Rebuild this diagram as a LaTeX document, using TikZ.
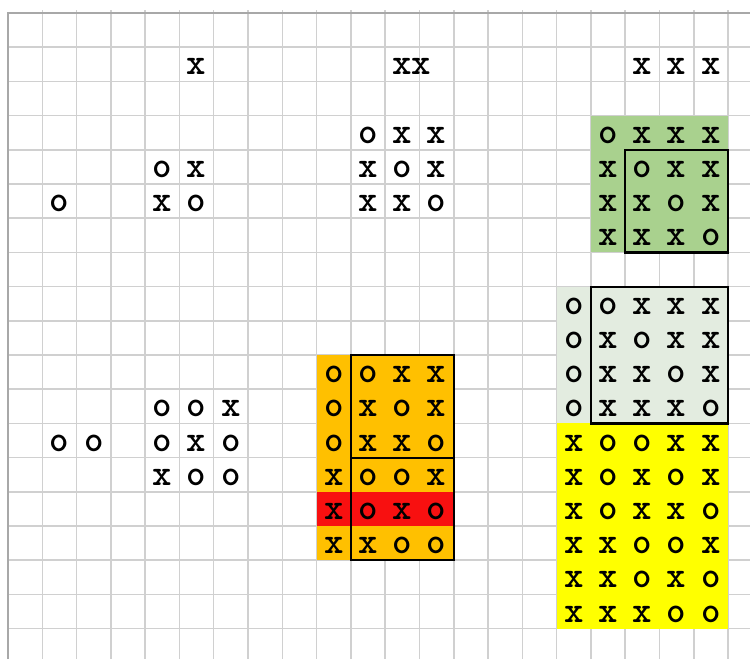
\documentclass[tikz,border=0pt]{standalone}
\usepackage{fontspec}
\definecolor{gridc}{HTML}{D0D0D0}
\definecolor{edgec}{HTML}{A8A8A8}
\definecolor{greenf}{HTML}{A9D18E}
\definecolor{lightf}{HTML}{E3ECE0}
\definecolor{yellowf}{HTML}{FFFF00}
\definecolor{orangef}{HTML}{FFC000}
\definecolor{redf}{HTML}{F81010}
\tikzset{
  gridline/.style={draw=gridc, line width=1.5pt},
  edgeline/.style={draw=edgec, line width=1.5pt},
  framebox/.style={draw=black, line width=2.2pt},
  markcell/.style={inner sep=0pt, yshift=-2.5pt, text=black,
    font=\ttfamily\bfseries\fontsize{37}{37}\selectfont}
}
\newcommand\cellrow[3]{%
  \foreach \ch [count=\i from #2] in {#3} {%
    \node[markcell] (n-#1-\i) at (\i+0.5,#1+0.5) {\ch};}}
\begin{document}
\begin{tikzpicture}[x=34.29pt,y=-34.2pt]
\useasboundingbox (-0.2333,-0.3801) rectangle (21.639,18.889);
% grid
\foreach \c in {1,...,21} \draw[gridline] (\c,-0.08) -- (\c,18.889);
\foreach \r in {1,...,18} \draw[gridline] (0,\r) -- (21.639,\r);
\draw[edgeline] (0,18.889) -- (0,0) -- (21.639,0);
% fills
\fill[greenf] (17,3) rectangle (21,7);
\fill[lightf] (16,8) rectangle (21,12);
\fill[yellowf] (16,12) rectangle (21,18);
\fill[orangef] (9,10) rectangle (13,16);
\fill[redf] (9,14) rectangle (13,15);
% frames
\draw[framebox] (18,4) rectangle (21,7);
\draw[framebox] (17,8) rectangle (21,12);
\draw[framebox] (10,10) rectangle (13,16);
\draw[framebox] (10,13) -- (13,13);
% marks, left groups
\cellrow{5}{1}{o}
\cellrow{1}{5}{x}
\cellrow{4}{4}{o,x}
\cellrow{5}{4}{x,o}
\cellrow{12}{1}{o,o}
\cellrow{11}{4}{o,o,x}
\cellrow{12}{4}{o,x,o}
\cellrow{13}{4}{x,o,o}
% middle groups
\node[markcell] (n-1-xx) at (11.78,1.5) {xx};
\cellrow{3}{10}{o,x,x}
\cellrow{4}{10}{x,o,x}
\cellrow{5}{10}{x,x,o}
\cellrow{10}{9}{o,o,x,x}
\cellrow{11}{9}{o,x,o,x}
\cellrow{12}{9}{o,x,x,o}
\cellrow{13}{9}{x,o,o,x}
\cellrow{14}{9}{x,o,x,o}
\cellrow{15}{9}{x,x,o,o}
% right groups
\cellrow{1}{18}{x,x,x}
\cellrow{3}{17}{o,x,x,x}
\cellrow{4}{17}{x,o,x,x}
\cellrow{5}{17}{x,x,o,x}
\cellrow{6}{17}{x,x,x,o}
\cellrow{8}{16}{o,o,x,x,x}
\cellrow{9}{16}{o,x,o,x,x}
\cellrow{10}{16}{o,x,x,o,x}
\cellrow{11}{16}{o,x,x,x,o}
\cellrow{12}{16}{x,o,o,x,x}
\cellrow{13}{16}{x,o,x,o,x}
\cellrow{14}{16}{x,o,x,x,o}
\cellrow{15}{16}{x,x,o,o,x}
\cellrow{16}{16}{x,x,o,x,o}
\cellrow{17}{16}{x,x,x,o,o}
\end{tikzpicture}
\end{document}
